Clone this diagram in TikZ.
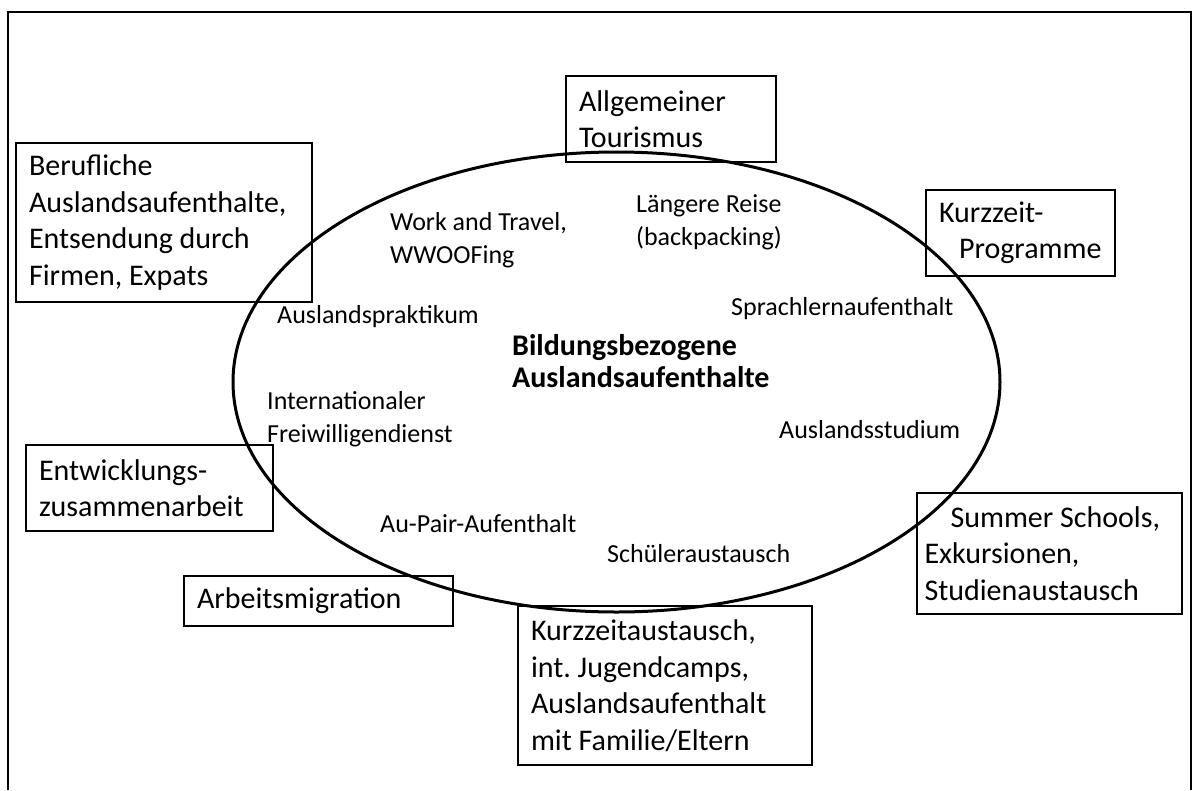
\documentclass[tikz,border=0pt]{standalone}
\usepackage{fontspec}
\setmainfont{Carlito}
\usetikzlibrary{shapes}
\frenchspacing

\begin{document}
\begin{tikzpicture}[
			x=1pt, y=-1pt,
			box/.style={rectangle, draw=black, line width=1.2pt, align=flush left, inner xsep=13pt, inner ysep=0pt, font=\fontsize{30}{36.5}\selectfont},
			item/.style={anchor=base west, align=flush left, inner sep=0pt, font=\fontsize{26}{33}\selectfont},
			core/.style={anchor=base west, align=flush left, inner sep=0pt, font=\fontsize{30}{32}\selectfont\bfseries},
			ring/.style={draw=black, line width=3pt}
			]
			\useasboundingbox (0,0) rectangle (1196,790);
			
			% outer frame, open at the bottom
			\draw[line width=2pt] (8,790) -- (8,12) -- (1191,12) -- (1191,790);
			
			\draw[ring] (616.5,382) ellipse [x radius=383.5, y radius=230];
			
			\node[box, text width=270pt, minimum height=159pt] (beruf) at (164,222.5) {Berufliche\\Auslandsaufenthalte,\\Entsendung durch\\Firmen, Expats};
			\node[box, text width=184pt, minimum height=86pt] (tour) at (671,119) {Allgemeiner\\Tourismus};
			\node[box, text width=163pt, minimum height=86pt] (kzprog) at (1020.5,233) {Kurzzeit-\\\hspace*{20pt}Programme};
			\node[box, text width=221pt, minimum height=86pt] (entw) at (149.5,488) {Entwicklungs-\\zusammenarbeit};
			\node[box, text width=243pt, minimum height=50pt] (migr) at (318.5,601) {Arbeitsmigration};
			\node[box, text width=268pt, minimum height=159pt] (kzaus) at (665,685.5) {Kurzzeitaustausch,\\int. Jugendcamps,\\Auslandsaufenthalt\\mit Familie/Eltern};
			\node[box, inner xsep=7.5pt, text width=250pt, minimum height=121pt] (summer) at (1049.5,553.5) {\hspace*{26pt}Summer Schools,\\Exkursionen,\\Studienaustausch};
			
			% multi-line texts sit on the baseline of their last line
			\node[item] (work) at (390,263) {Work and Travel,\\WWOOFing};
			\node[item] (reise) at (636,245) {Längere Reise\\(backpacking)};
			\node[item] (sprach) at (731,315) {Sprachlernaufenthalt};
			\node[item] (prakt) at (277,323) {Auslandspraktikum};
			\node[core] (bildung) at (512,387) {Bildungsbezogene\\Auslandsaufenthalte};
			\node[item] (freiw) at (267,442) {Internationaler\\Freiwilligendienst};
			\node[item] (studium) at (779,438) {Auslandsstudium};
			\node[item] (aupair) at (380,532) {Au-Pair-Aufenthalt};
			\node[item] (schueler) at (607,562) {Schüleraustausch};
		\end{tikzpicture}
\end{document}
